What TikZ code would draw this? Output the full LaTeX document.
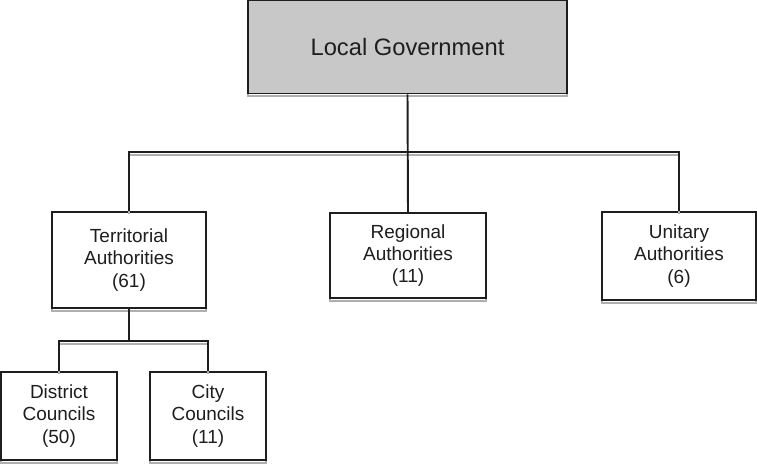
\documentclass[tikz,border=0pt]{standalone}
\usepackage{fontspec}
\setmainfont{Liberation Sans}
\usepackage{xcolor}
\usepackage{tikz}
\usetikzlibrary{positioning,calc}
\definecolor{govgray}{RGB}{200,200,200}
\definecolor{shadegray}{RGB}{175,175,175}
\definecolor{inkgray}{RGB}{30,30,30}
\tikzset{
  shade line/.style={preaction={draw=shadegray, line width=1pt,
                     transform canvas={yshift=-1.6pt}}},
  orgbox/.style={draw=inkgray, line width=1.1pt, fill=white, align=center,
                 font=\fontsize{10.8}{12.6}\selectfont, text=inkgray,
                 minimum width=3.08cm, minimum height=1.76cm, inner sep=2pt,
                 shade line},
  topbox/.style={orgbox, fill=govgray, font=\fontsize{13.5}{16}\selectfont,
                 minimum width=6.38cm, minimum height=1.86cm},
  conn/.style={draw=inkgray, line width=1.1pt},
}

\begin{document}
\begin{tikzpicture}[x=0.02cm, y=-0.02cm]
    \useasboundingbox (0,0) rectangle (757,466);
    % top level
    \node[topbox] (gov) at (407.5,47) {Local Government};
    % second level
    \node[orgbox, minimum height=1.92cm] (terr) at (129,260)
      {Territorial\\Authorities\\(61)};
    \node[orgbox, minimum width=3.12cm, minimum height=1.7cm] (reg) at (408,255.5)
      {Regional\\Authorities\\(11)};
    \node[orgbox] (unit) at (679,256)
      {Unitary\\Authorities\\(6)};
    % third level
    \node[orgbox, minimum width=2.32cm] (dist) at (59,416)
      {District\\Councils\\(50)};
    \node[orgbox, minimum width=2.32cm] (city) at (208,416)
      {City\\Councils\\(11)};
    % connectors
    \coordinate (bus) at (129,152);
    \coordinate (subbus) at (129,341);
    \draw[conn, shade line] (terr.north) |- (bus) -| (unit.north);
    \draw[conn] (gov.south) -- (reg.north);
    \draw[conn] (terr.south) -- (subbus);
    \draw[conn, shade line] (dist.north) |- (subbus) -| (city.north);
\end{tikzpicture}
\end{document}
